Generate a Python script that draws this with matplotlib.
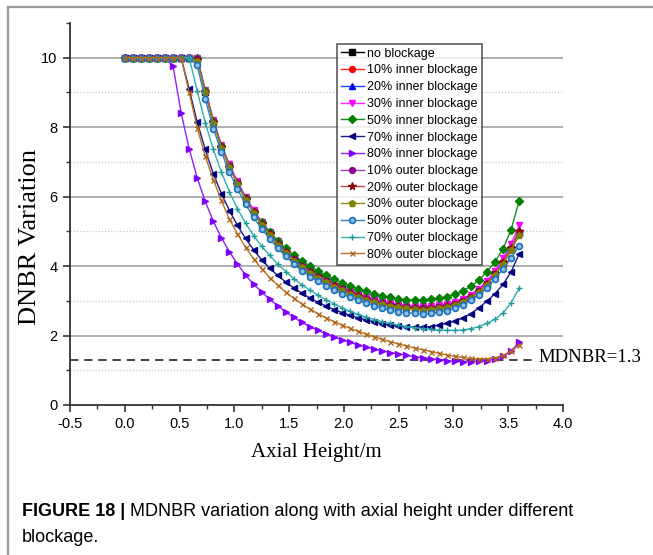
import numpy as np
import matplotlib
matplotlib.use("Agg")
import matplotlib.pyplot as plt
from matplotlib.lines import Line2D

# ---------------- data ----------------
axial_height = np.linspace(0.0, 3.6, 50)

no_blockage = [10, 10, 10, 10, 10, 10, 10, 10, 10, 9.95, 9.02, 8.16, 7.44, 6.87, 6.38, 5.94, 5.56, 5.22, 4.92, 4.65,
               4.41, 4.19, 3.99, 3.83, 3.69, 3.56, 3.44, 3.33, 3.23, 3.14, 3.06, 2.99, 2.93, 2.88, 2.84, 2.81, 2.79, 2.78, 2.79, 2.81,
               2.85, 2.91, 3.00, 3.12, 3.28, 3.49, 3.77, 4.10, 4.50, 4.95]
inner_10 = [10, 10, 10, 10, 10, 10, 10, 10, 10, 9.96, 9.03, 8.17, 7.45, 6.88, 6.39, 5.95, 5.57, 5.23, 4.93, 4.66,
            4.42, 4.20, 4.00, 3.84, 3.70, 3.57, 3.45, 3.34, 3.24, 3.15, 3.07, 3.00, 2.94, 2.89, 2.85, 2.82, 2.80, 2.79, 2.80, 2.82,
            2.86, 2.92, 3.01, 3.13, 3.29, 3.50, 3.78, 4.11, 4.51, 4.97]
inner_20 = [10, 10, 10, 10, 10, 10, 10, 10, 10, 9.97, 9.04, 8.18, 7.46, 6.89, 6.40, 5.96, 5.58, 5.24, 4.94, 4.67,
            4.43, 4.21, 4.01, 3.85, 3.71, 3.58, 3.46, 3.35, 3.25, 3.16, 3.08, 3.01, 2.95, 2.90, 2.86, 2.83, 2.81, 2.80, 2.81, 2.83,
            2.87, 2.93, 3.02, 3.14, 3.31, 3.52, 3.80, 4.14, 4.55, 5.02]
inner_30 = [10, 10, 10, 10, 10, 10, 10, 10, 10, 10, 9.08, 8.22, 7.50, 6.93, 6.44, 6.00, 5.62, 5.28, 4.98, 4.71,
            4.47, 4.25, 4.05, 3.89, 3.75, 3.62, 3.50, 3.39, 3.29, 3.20, 3.12, 3.05, 2.99, 2.94, 2.90, 2.87, 2.85, 2.84, 2.85, 2.87,
            2.91, 2.97, 3.06, 3.18, 3.35, 3.57, 3.86, 4.22, 4.64, 5.17]
inner_50 = [10, 10, 10, 10, 10, 10, 10, 10, 10, 10, 9.04, 8.17, 7.45, 6.88, 6.39, 5.95, 5.57, 5.26, 4.98, 4.73,
            4.51, 4.31, 4.15, 4.00, 3.86, 3.74, 3.63, 3.52, 3.43, 3.34, 3.27, 3.20, 3.14, 3.10, 3.06, 3.03, 3.02, 3.02, 3.04, 3.07,
            3.12, 3.19, 3.29, 3.42, 3.60, 3.84, 4.13, 4.50, 5.05, 5.88]
inner_70 = [10, 10, 10, 10, 10, 10, 10, 10, 9.10, 8.14, 7.36, 6.66, 6.09, 5.60, 5.17, 4.80, 4.47, 4.18, 3.94, 3.73,
            3.54, 3.37, 3.22, 3.08, 2.96, 2.85, 2.75, 2.66, 2.58, 2.51, 2.45, 2.39, 2.34, 2.30, 2.27, 2.25, 2.24, 2.24, 2.26, 2.30,
            2.35, 2.42, 2.51, 2.63, 2.80, 2.99, 3.21, 3.47, 3.84, 4.35]
inner_80 = [10, 10, 10, 10, 10, 10, 9.76, 8.41, 7.38, 6.54, 5.86, 5.29, 4.82, 4.41, 4.06, 3.74, 3.48, 3.26, 3.04, 2.86,
            2.68, 2.52, 2.38, 2.26, 2.15, 2.05, 1.96, 1.88, 1.80, 1.73, 1.67, 1.61, 1.56, 1.51, 1.47, 1.43, 1.39, 1.36, 1.33, 1.30,
            1.28, 1.26, 1.25, 1.25, 1.26, 1.28, 1.32, 1.40, 1.56, 1.80]
outer_10 = [10, 10, 10, 10, 10, 10, 10, 10, 10, 9.95, 9.02, 8.16, 7.44, 6.87, 6.38, 5.94, 5.56, 5.22, 4.92, 4.65,
            4.41, 4.19, 3.99, 3.83, 3.69, 3.56, 3.44, 3.33, 3.23, 3.14, 3.06, 2.99, 2.93, 2.88, 2.84, 2.81, 2.79, 2.78, 2.79, 2.81,
            2.85, 2.91, 3.00, 3.12, 3.28, 3.49, 3.76, 4.09, 4.49, 4.93]
outer_20 = [10, 10, 10, 10, 10, 10, 10, 10, 10, 9.94, 9.01, 8.15, 7.43, 6.86, 6.37, 5.93, 5.55, 5.21, 4.91, 4.64,
            4.40, 4.18, 3.98, 3.82, 3.68, 3.55, 3.43, 3.32, 3.22, 3.13, 3.05, 2.98, 2.92, 2.87, 2.83, 2.80, 2.78, 2.77, 2.78, 2.80,
            2.84, 2.90, 2.99, 3.11, 3.28, 3.49, 3.77, 4.11, 4.52, 5.00]
outer_30 = [10, 10, 10, 10, 10, 10, 10, 10, 10, 9.90, 9.00, 8.13, 7.41, 6.84, 6.35, 5.91, 5.53, 5.19, 4.89, 4.62,
            4.38, 4.16, 3.96, 3.80, 3.66, 3.53, 3.41, 3.30, 3.20, 3.11, 3.03, 2.96, 2.90, 2.85, 2.81, 2.78, 2.76, 2.75, 2.76, 2.78,
            2.82, 2.88, 2.97, 3.09, 3.25, 3.46, 3.74, 4.07, 4.45, 4.90]
outer_50 = [10, 10, 10, 10, 10, 10, 10, 10, 10, 9.78, 8.80, 7.96, 7.28, 6.70, 6.22, 5.78, 5.40, 5.08, 4.78, 4.52,
            4.28, 4.06, 3.86, 3.70, 3.56, 3.43, 3.31, 3.20, 3.10, 3.01, 2.93, 2.86, 2.79, 2.73, 2.69, 2.66, 2.64, 2.63, 2.64, 2.67,
            2.72, 2.79, 2.89, 3.02, 3.18, 3.38, 3.63, 3.92, 4.22, 4.59]
outer_70 = [10, 10, 10, 10, 10, 10, 10, 10, 10, 9.04, 8.13, 7.36, 6.71, 6.14, 5.65, 5.24, 4.88, 4.57, 4.31, 4.06,
            3.84, 3.64, 3.46, 3.31, 3.16, 3.03, 2.91, 2.80, 2.70, 2.61, 2.53, 2.46, 2.40, 2.35, 2.30, 2.26, 2.23, 2.20, 2.18, 2.16,
            2.15, 2.15, 2.16, 2.20, 2.26, 2.35, 2.47, 2.65, 2.95, 3.36]
outer_80 = [10, 10, 10, 10, 10, 10, 10, 10, 9.00, 7.98, 7.16, 6.49, 5.89, 5.35, 4.93, 4.54, 4.21, 3.93, 3.67, 3.45,
            3.25, 3.07, 2.91, 2.76, 2.63, 2.51, 2.40, 2.30, 2.21, 2.12, 2.04, 1.96, 1.89, 1.82, 1.76, 1.70, 1.64, 1.59, 1.54, 1.49,
            1.44, 1.40, 1.37, 1.34, 1.33, 1.33, 1.36, 1.43, 1.55, 1.73]

labels = ["no blockage", "10% inner blockage", "20% inner blockage", "30% inner blockage",
          "50% inner blockage", "70% inner blockage", "80% inner blockage",
          "10% outer blockage", "20% outer blockage", "30% outer blockage",
          "50% outer blockage", "70% outer blockage", "80% outer blockage"]
series = [no_blockage, inner_10, inner_20, inner_30, inner_50, inner_70, inner_80,
          outer_10, outer_20, outer_30, outer_50, outer_70, outer_80]

mdnbr_limit = 1.3
x_ticks = [-0.5, 0.0, 0.5, 1.0, 1.5, 2.0, 2.5, 3.0, 3.5, 4.0]
y_ticks = [0, 2, 4, 6, 8, 10]

# ---------------- styles ----------------
styles = [
    dict(color="#000000", marker="s", ms=4.0, mfc="#000000", mec="#000000"),
    dict(color="#ff2020", marker="o", ms=4.2, mfc="#ff0000", mec="#ff0000"),
    dict(color="#2040ff", marker="^", ms=4.5, mfc="#0000ff", mec="#0000ff"),
    dict(color="#ff20ff", marker="v", ms=4.8, mfc="#ff00ff", mec="#ff00ff"),
    dict(color="#1a8a1a", marker="D", ms=4.0, mfc="#008000", mec="#008000"),
    dict(color="#1a1a8a", marker="<", ms=4.8, mfc="#000080", mec="#000080"),
    dict(color="#9020ff", marker=">", ms=4.8, mfc="#8000ff", mec="#8000ff"),
    dict(color="#a040a0", marker="o", ms=4.2, mfc="#8b008b", mec="#8b008b"),
    dict(color="#c04848", marker="*", ms=5.5, mfc="#8b0000", mec="#8b0000"),
    dict(color="#8a8a10", marker="p", ms=5.0, mfc="#808000", mec="#808000"),
    dict(color="#2a86c8", marker="o", ms=4.2, mfc="#8fc0ea", mec="#1a70b8", mew=1.2),
    dict(color="#30b0b0", marker="+", ms=4.0, mfc="#209a9a", mec="#209a9a", mew=1.0),
    dict(color="#b8721f", marker="x", ms=3.6, mfc="#b06010", mec="#b06010", mew=1.0),
]

W, H = 653, 555
fig = plt.figure(figsize=(W / 100, H / 100), dpi=100)

# page frame (left and top rule)
fig.add_artist(Line2D([8 / W, 8 / W], [0, 1 - 7 / H], transform=fig.transFigure, color="#9a9a9a", lw=1.6))
fig.add_artist(Line2D([8 / W, 1], [1 - 7 / H, 1 - 7 / H], transform=fig.transFigure, color="#9a9a9a", lw=1.6))

left, right = 70 / W, 563 / W
bottom, top = 1 - 405 / H, 1 - 23 / H
ax = fig.add_axes([left, bottom, right - left, top - bottom])

ax.set_xlim(-0.5, 4.0)
ax.set_ylim(0, 11)

# gridlines
for yv in [2, 4, 6, 8, 10]:
    ax.axhline(yv, color="#a8a8a8", lw=1.3, zorder=0)
for yv in [1, 3, 5, 7, 9]:
    ax.axhline(yv, color="#c8c8c8", lw=0.9, ls=(0, (1, 1.5)), zorder=0)

for vals, lab, st in zip(series, labels, styles):
    ax.plot(axial_height, vals, label=lab, lw=1.0, zorder=3, **st)

# MDNBR limit line
ax.plot([-0.5, 3.73], [mdnbr_limit, mdnbr_limit], color="#222222", lw=1.2, ls=(0, (5, 3.5)), zorder=2, clip_on=False)
ax.text(3.78, mdnbr_limit + 0.07, "MDNBR=1.3", fontsize=13.5, family="Liberation Serif", va="center", ha="left",
        clip_on=False)

for s in ["top", "right"]:
    ax.spines[s].set_visible(False)
for s in ["left", "bottom"]:
    ax.spines[s].set_linewidth(1.3)
    ax.spines[s].set_color("#333333")

ax.set_xticks(x_ticks)
ax.set_xticklabels([f"{v:.1f}" for v in x_ticks])
ax.set_xticks([-0.25, 0.25, 0.75, 1.25, 1.75, 2.25, 2.75, 3.25, 3.75], minor=True)
ax.set_yticks(y_ticks)
ax.set_yticklabels([str(v) for v in y_ticks])
ax.set_yticks([1, 3, 5, 7, 9, 11], minor=True)
ax.tick_params(which="major", direction="out", length=5, width=1.2, color="#333333",
               labelsize=10.5, pad=4)
ax.tick_params(which="minor", direction="out", length=3, width=1.0, color="#333333")
for lab in ax.get_xticklabels() + ax.get_yticklabels():
    lab.set_family("Liberation Sans")

ax.set_xlabel("Axial Height/m", fontsize=15, family="Liberation Serif", labelpad=8)
fig.text(30 / W, 1 - 237 / H, "DNBR Variation", fontsize=19, family="Liberation Serif",
         rotation=90, ha="center", va="center")

leg = ax.legend(loc="upper left", bbox_to_anchor=(337 / W, 1 - 44 / H), bbox_transform=fig.transFigure,
                prop={"family": "Liberation Sans", "size": 9.0}, frameon=True, fancybox=False,
                borderaxespad=0, borderpad=0.3, labelspacing=0.38, handlelength=1.85, handletextpad=0.25,
                markerscale=1.0)
leg.get_frame().set_edgecolor("#333333")
leg.get_frame().set_linewidth(1.2)
leg.set_zorder(5)

# caption
cap_size = 13
t1 = fig.text(22 / W, 1 - 512 / H, "FIGURE 18 |", fontsize=cap_size, family="Liberation Sans", weight="bold",
              va="center", ha="left")
renderer = fig.canvas.get_renderer()
bb = t1.get_window_extent(renderer=renderer)
fig.text((bb.x1 + 5) / W, 1 - 512 / H, "MDNBR variation along with axial height under different",
         fontsize=cap_size, family="Liberation Sans", va="center", ha="left")
fig.text(22 / W, 1 - 538 / H, "blockage.", fontsize=cap_size, family="Liberation Sans", va="center", ha="left")

fig.savefig("out.png", dpi=100)
